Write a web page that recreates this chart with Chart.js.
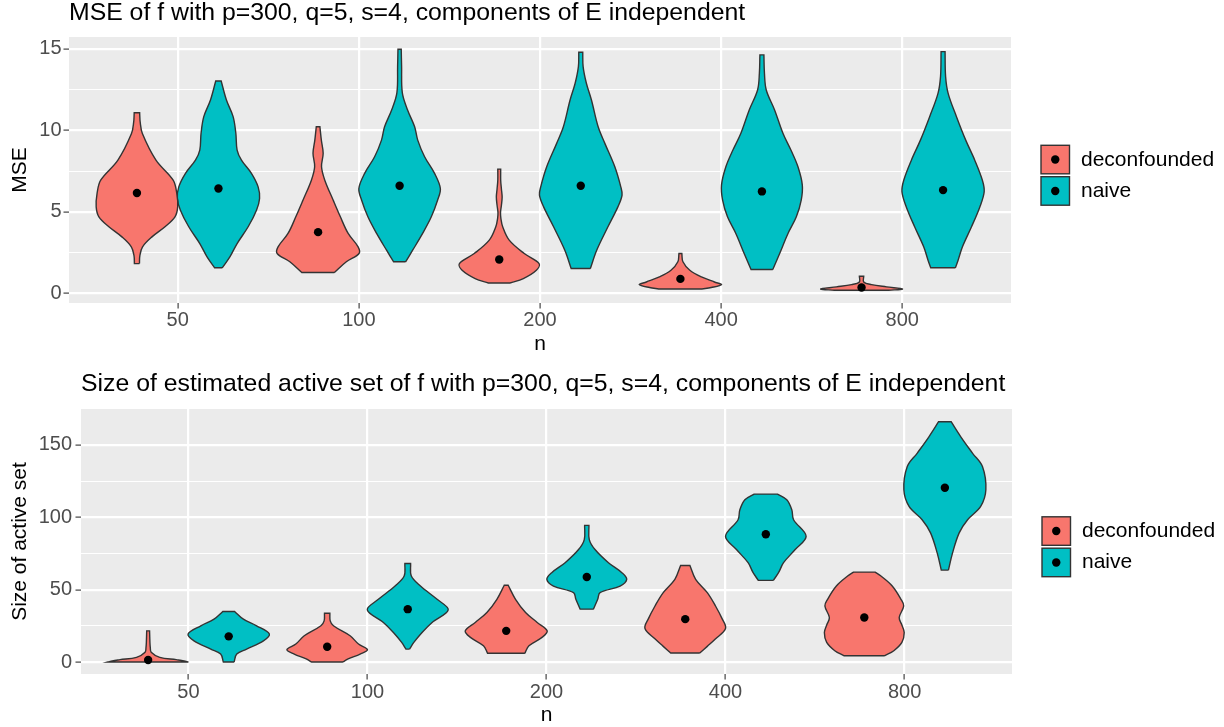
<!DOCTYPE html>
<html>
<head>
<meta charset="utf-8">
<script src="https://cdn.jsdelivr.net/npm/chart.js@4.4.1/dist/chart.umd.min.js"></script>
<style>
html, body { margin: 0; padding: 0; background: #fff; width: 1224px; height: 727px; overflow: hidden; }
canvas { position: absolute; left: 0; }
#horny { top: 0; }
#dolny { top: 360px; }
</style>
</head>
<body>
<canvas id="horny" width="1224" height="360"></canvas>
<canvas id="dolny" width="1224" height="380"></canvas>
<script>
// Kategórie a skupiny
const nLabels = ['50', '100', '200', '400', '800']
const groupNames = ['deconfounded', 'naive']
const groupFill = ['#F8766D', '#00BFC4']

// Osi
const mseMajor = [0, 5, 10, 15]
const mseMinor = [2.5, 7.5, 12.5]
const sizeMajor = [0, 50, 100, 150]
const sizeMinor = [25, 75, 125]

// MSE - profily violín (úrovne a polšírky v jednotkách kategórie)
const mseLevelsDeconf = [
    [1.82, 2.3, 2.85, 3.46, 4.08, 4.69, 5.3, 6.13, 6.94, 8.17, 9.8, 10.5, 11.08],
    [1.27, 1.93, 2.44, 2.85, 3.67, 4.69, 5.72, 6.94, 7.76, 8.59, 9.4, 10.22],
    [0.63, 0.9, 1.41, 1.82, 2.44, 3.26, 4.08, 4.6, 4.95, 5.4, 5.9, 6.4, 6.94, 7.62],
    [0.26, 0.35, 0.53, 0.69, 1.0, 1.41, 1.93, 2.44],
    [0.18, 0.26, 0.39, 0.53, 0.69, 1.04]
]
const mseWidthsDeconf = [
    [0.014, 0.016, 0.031, 0.083, 0.155, 0.21, 0.225, 0.22, 0.2, 0.105, 0.03, 0.018, 0.015],
    [0.09, 0.156, 0.226, 0.221, 0.166, 0.123, 0.083, 0.037, 0.019, 0.028, 0.018, 0.01],
    [0.06, 0.133, 0.205, 0.22, 0.138, 0.055, 0.019, 0.009, 0.007, 0.012, 0.016, 0.012, 0.008, 0.008],
    [0.12, 0.17, 0.227, 0.188, 0.116, 0.052, 0.014, 0.008],
    [0.15, 0.226, 0.138, 0.055, 0.012, 0.012]
]
const mseLevelsNaive = [
    [1.56, 2.23, 3.05, 4.08, 5.1, 5.82, 6.53, 7.36, 8.17, 8.79, 9.82, 10.84, 11.86, 13.03],
    [1.93, 2.64, 3.67, 4.69, 5.72, 6.43, 7.36, 8.38, 9.4, 10.22, 11.25, 12.3, 13.9, 14.98],
    [1.52, 2.64, 4.08, 5.3, 6.02, 6.53, 7.76, 9.2, 10.22, 11.86, 12.89, 13.91, 14.79],
    [1.46, 2.44, 3.67, 4.69, 5.72, 6.64, 7.76, 8.79, 9.82, 11.25, 12.48, 13.5, 14.63],
    [1.56, 2.03, 2.85, 4.08, 5.3, 6.23, 6.94, 8.17, 9.4, 10.84, 12.27, 13.3, 14.83]
]
const mseWidthsNaive = [
    [0.021, 0.063, 0.103, 0.164, 0.21, 0.227, 0.219, 0.182, 0.127, 0.103, 0.096, 0.081, 0.044, 0.015],
    [0.033, 0.072, 0.127, 0.175, 0.21, 0.225, 0.193, 0.138, 0.1, 0.083, 0.044, 0.015, 0.011, 0.009],
    [0.053, 0.088, 0.15, 0.205, 0.228, 0.221, 0.188, 0.133, 0.096, 0.059, 0.031, 0.013, 0.011],
    [0.06, 0.098, 0.144, 0.19, 0.217, 0.223, 0.199, 0.16, 0.116, 0.07, 0.024, 0.014, 0.011],
    [0.068, 0.083, 0.107, 0.157, 0.203, 0.227, 0.217, 0.175, 0.125, 0.074, 0.028, 0.014, 0.011]
]
const mseMeanDeconf = [6.15, 3.75, 2.07, 0.88, 0.35]
const mseMeanNaive = [6.43, 6.6, 6.6, 6.25, 6.33]

// Veľkosť aktívnej množiny
const sizeLevelsDeconf = [
    [0, 0.8, 1.6, 3.2, 6.7, 10, 13.5, 21.5],
    [0, 2.1, 5.5, 8.5, 12.4, 18.1, 25, 28.4, 33.7],
    [6.0, 11.2, 17.0, 21.5, 27.3, 34.2, 43.3, 53.0],
    [6.2, 10.8, 15.8, 23.2, 29.6, 38.7, 47.9, 57.1, 66.7],
    [4.3, 7.8, 13.5, 20.4, 25.5, 30.7, 38.7, 43.3, 52.5, 59.4, 62.1]
]
const sizeWidthsDeconf = [
    [0.225, 0.2, 0.157, 0.065, 0.017, 0.012, 0.01, 0.008],
    [0.088, 0.117, 0.184, 0.225, 0.175, 0.128, 0.035, 0.017, 0.015],
    [0.104, 0.127, 0.2, 0.229, 0.173, 0.108, 0.052, 0.011],
    [0.081, 0.123, 0.168, 0.225, 0.207, 0.169, 0.123, 0.058, 0.026],
    [0.112, 0.165, 0.21, 0.223, 0.21, 0.195, 0.22, 0.205, 0.156, 0.093, 0.06]
]
const sizeLevelsNaive = [
    [0, 5.5, 8.9, 14.6, 19.3, 25, 29.6, 34.9],
    [8.9, 13.5, 20.4, 27.3, 36.0, 43.3, 52.5, 59.4, 68.1],
    [36.5, 43.3, 47.9, 52.5, 57.1, 61.7, 68.6, 77.7, 84.6, 94.4],
    [56.4, 61.7, 68.6, 77.7, 86.9, 98.3, 105.2, 112.1, 116.0],
    [63.5, 75.4, 89.2, 98.3, 107.5, 119.0, 135.0, 144.2, 155.6, 166.0]
]
const sizeWidthsNaive = [
    [0.03, 0.045, 0.1, 0.194, 0.227, 0.156, 0.082, 0.033],
    [0.01, 0.034, 0.08, 0.136, 0.226, 0.164, 0.071, 0.02, 0.016],
    [0.037, 0.061, 0.074, 0.186, 0.223, 0.196, 0.121, 0.046, 0.014, 0.012],
    [0.042, 0.071, 0.099, 0.164, 0.225, 0.155, 0.145, 0.117, 0.065],
    [0.02, 0.043, 0.08, 0.127, 0.2, 0.229, 0.21, 0.155, 0.089, 0.035]
]
const sizeMeanDeconf = [1.4, 10.5, 21.5, 29.6, 30.7]
const sizeMeanNaive = [17.7, 36.5, 58.7, 88.3, 120.4]

Chart.defaults.font.family = "'Liberation Sans', Arial, sans-serif"

const dodge = [-0.225, 0.225]

// Obrys violy: pravá strana hore, ľavá dole, rohy zdvojené aby boli ostré
function violinPath(center, levels, widths) {
    const right = levels.map((y, i) => ({ x: center + widths[i], y }))
    const left = levels.map((y, i) => ({ x: center - widths[i], y })).reverse()
    return [...right, right[right.length - 1], left[0], ...left, left[left.length - 1], right[0]]
}

function panelDatasets(levels, widths, means) {
    const sets = []
    groupNames.forEach((name, g) => {
        levels[g].forEach((lv, i) => {
            sets.push({
                label: name,
                data: violinPath(i + 1 + dodge[g], lv, widths[g][i]),
                fill: 'shape',
                backgroundColor: groupFill[g],
                borderColor: '#333333',
                borderWidth: 1.4,
                pointRadius: 0,
                pointHoverRadius: 0,
                tension: 0.35,
                order: 2
            })
        })
        sets.push({
            label: name + ' mean',
            data: means[g].map((m, i) => ({ x: i + 1 + dodge[g], y: m })),
            showLine: false,
            pointRadius: 4.2,
            pointBackgroundColor: '#000',
            pointBorderColor: '#000',
            pointBorderWidth: 0,
            order: 1
        })
    })
    return sets
}

// Sivé pozadie panelu
const panelBg = {
    id: 'panelBg',
    beforeDraw(chart) {
        const { ctx, chartArea: a } = chart
        ctx.save()
        ctx.fillStyle = '#EBEBEB'
        ctx.fillRect(a.left, a.top, a.right - a.left, a.bottom - a.top)
        ctx.restore()
    }
}

// Legenda v štýle ggplot (štvorec s bodkou)
const keyLegend = {
    id: 'keyLegend',
    afterDraw(chart) {
        const { ctx, chartArea: a } = chart
        const cy = (a.top + a.bottom) / 2 + 5
        groupNames.forEach((name, g) => {
            const top = cy - 29.7 + g * 31.4
            const left = a.right + 30
            ctx.save()
            ctx.fillStyle = groupFill[g]
            ctx.fillRect(left, top, 28.5, 28.5)
            ctx.strokeStyle = '#333333'
            ctx.lineWidth = 1.4
            ctx.strokeRect(left, top, 28.5, 28.5)
            ctx.fillStyle = '#000'
            ctx.beginPath()
            ctx.arc(left + 14.25, top + 14.25, 4.2, 0, Math.PI * 2)
            ctx.fill()
            ctx.font = "21px 'Liberation Sans', Arial, sans-serif"
            ctx.textBaseline = 'middle'
            ctx.fillText(name, a.right + 70, top + 14.5)
            ctx.restore()
        })
    }
}

function yScale(min, max, major, minor, title, fitWidth, tickPad) {
    const isMajor = c => c.tick && major.includes(c.tick.value)
    return {
        type: 'linear',
        min, max,
        afterBuildTicks: s => { s.ticks = [...major, ...minor].sort((p, q) => p - q).map(v => ({ value: v })) },
        afterFit: s => { s.width = fitWidth },
        ticks: {
            callback: v => major.includes(v) ? String(v) : '',
            color: '#4D4D4D',
            font: { size: 20 },
            padding: tickPad,
            autoSkip: false
        },
        grid: {
            color: '#FFFFFF',
            lineWidth: c => isMajor(c) ? 2.2 : 1.1,
            tickColor: c => isMajor(c) ? '#333333' : 'rgba(0,0,0,0)',
            tickLength: 5.5,
            tickWidth: 1.1
        },
        border: { display: false },
        title: {
            display: true, text: title, color: '#000',
            font: { size: 21, lineHeight: 1.2 },
            padding: { top: 7.6, bottom: 0 }
        }
    }
}

function xScale(fitHeight, tickPad, titlePad) {
    return {
        type: 'linear',
        min: 0.4, max: 5.6,
        afterBuildTicks: s => { s.ticks = nLabels.map((_, i) => ({ value: i + 1 })) },
        afterFit: s => { s.height = fitHeight },
        ticks: {
            callback: (v, i) => nLabels[i],
            color: '#4D4D4D',
            font: { size: 20 },
            padding: tickPad,
            autoSkip: false,
            maxRotation: 0
        },
        grid: {
            color: '#FFFFFF',
            lineWidth: 2.2,
            tickColor: '#333333',
            tickLength: 5.5,
            tickWidth: 1.1
        },
        border: { display: false },
        title: {
            display: true, text: 'n', color: '#000',
            font: { size: 21, lineHeight: 1.2 },
            padding: { top: 0, bottom: titlePad }
        }
    }
}

function vykresli(id, cfg) {
    new Chart(document.getElementById(id), {
        type: 'line',
        data: { datasets: panelDatasets(cfg.levels, cfg.widths, cfg.means) },
        options: {
            responsive: false,
            animation: false,
            events: [],
            layout: { padding: { left: 0, right: cfg.padRight, top: 0, bottom: 0 } },
            scales: { x: cfg.x, y: cfg.y },
            plugins: {
                legend: { display: false },
                tooltip: { enabled: false },
                title: {
                    display: true, text: cfg.title, align: 'start', fullSize: false,
                    color: '#000',
                    font: { size: 24.8, weight: 'normal', lineHeight: 1 },
                    padding: cfg.titlePad
                }
            }
        },
        plugins: [panelBg, keyLegend]
    })
}

vykresli('horny', {
    title: 'MSE of f with p=300, q=5, s=4, components of E independent',
    titlePad: { top: 0.6, bottom: 11.6 },
    padRight: 213,
    levels: [mseLevelsDeconf, mseLevelsNaive],
    widths: [mseWidthsDeconf, mseWidthsNaive],
    means: [mseMeanDeconf, mseMeanNaive],
    x: xScale(57, 0, 3.2),
    y: yScale(-0.6, 15.73, mseMajor, mseMinor, 'MSE', 69, 2)
})

vykresli('dolny', {
    title: 'Size of estimated active set of f with p=300, q=5, s=4, components of E independent',
    titlePad: { top: 11.5, bottom: 12.7 },
    padRight: 212,
    levels: [sizeLevelsDeconf, sizeLevelsNaive],
    widths: [sizeWidthsDeconf, sizeWidthsNaive],
    means: [sizeMeanDeconf, sizeMeanNaive],
    x: xScale(66, 0.5, 11.7),
    y: yScale(-8.3, 174.8, sizeMajor, sizeMinor, 'Size of active set', 81, 3.5)
})
</script>
</body>
</html>
